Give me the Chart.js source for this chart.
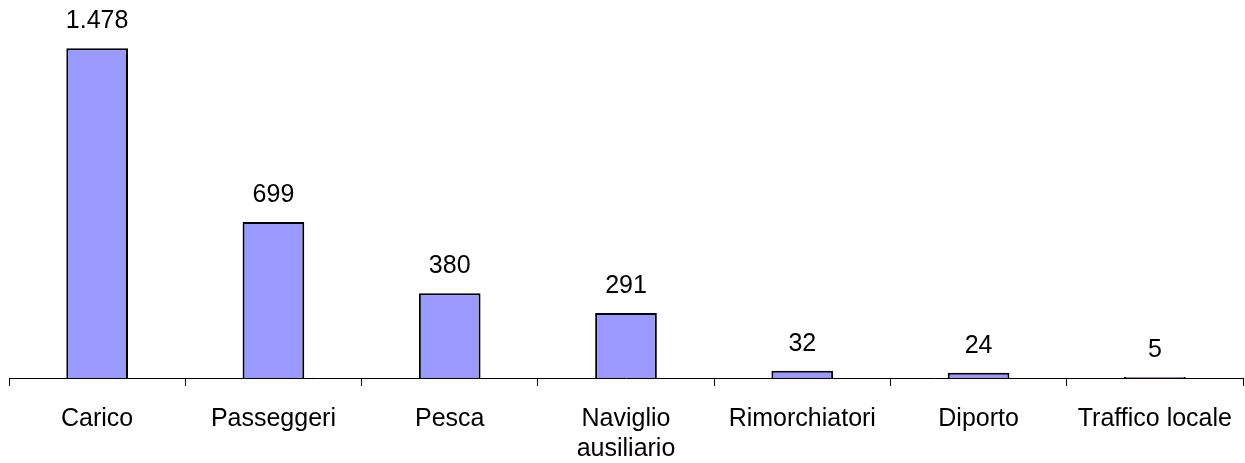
<!DOCTYPE html>
<html lang="it">
<head>
  <meta charset="UTF-8">
  <title>Navi per tipo</title>
  <style>
    html, body { margin: 0; padding: 0; background: #fff; }
    #wrap { width: 1245px; height: 463px; position: relative; }
  </style>
  <script src="https://cdn.jsdelivr.net/npm/chart.js"></script>
</head>
<body>
  <div id="wrap"><canvas id="grafico"></canvas></div>
  <script>
    // dati
    const categorie = ['Carico', 'Passeggeri', 'Pesca', ['Naviglio', 'ausiliario'], 'Rimorchiatori', 'Diporto', 'Traffico locale'];
    const valori = [1478, 699, 380, 291, 32, 24, 5];

    // etichette sopra le barre (1.478 con punto delle migliaia)
    const etichetteValori = {
      id: 'etichetteValori',
      afterDatasetsDraw(chart) {
        const ctx = chart.ctx;
        const meta = chart.getDatasetMeta(0);
        ctx.save();
        ctx.font = '25px "Liberation Sans", Arial, sans-serif';
        ctx.fillStyle = '#000';
        ctx.textAlign = 'center';
        ctx.textBaseline = 'alphabetic';
        meta.data.forEach((bar, i) => {
          const testo = valori[i].toLocaleString('it-IT');
          ctx.fillText(testo, bar.x, bar.y - 20);
        });
        ctx.restore();
      }
    };

    new Chart(document.getElementById('grafico'), {
      type: 'bar',
      data: {
        labels: categorie,
        datasets: [{
          data: valori,
          backgroundColor: '#9999ff',
          borderColor: '#000',
          borderWidth: 2,
          categoryPercentage: 1,
          barPercentage: 0.35
        }]
      },
      options: {
        responsive: true,
        maintainAspectRatio: false,
        animation: false,
        layout: { padding: { left: 9, right: 2, top: 21, bottom: 2 } },
        plugins: { legend: { display: false }, tooltip: { enabled: false } },
        scales: {
          x: {
            offset: true,
            afterFit(scale) {
              scale.height = 83;
              scale.paddingLeft = 0;
              scale.paddingRight = 0;
            },
            grid: { offset: true, drawOnChartArea: false, tickLength: 8, color: '#000' },
            border: { display: true, color: '#000', width: 1 },
            ticks: {
              color: '#000',
              padding: 18,
              maxRotation: 0,
              autoSkip: false,
              font: { family: '"Liberation Sans", Arial, sans-serif', size: 25, lineHeight: 1.2 }
            }
          },
          y: { display: false, min: 0, max: 1600 }
        }
      },
      plugins: [etichetteValori]
    });
  </script>
</body>
</html>
